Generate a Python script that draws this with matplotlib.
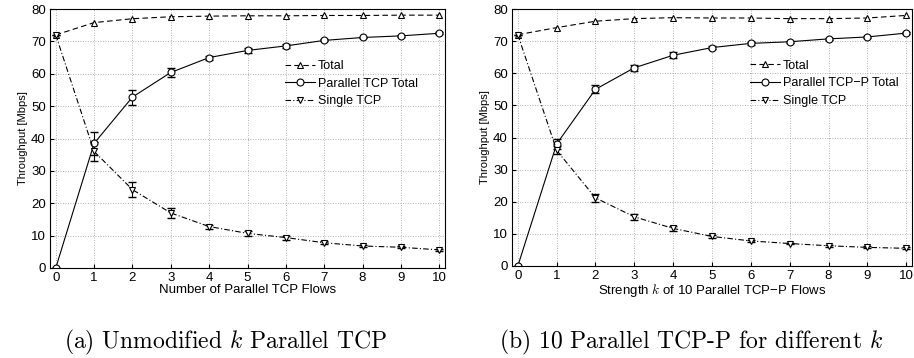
import numpy as np
import matplotlib.pyplot as plt
from matplotlib import rcParams

rcParams['font.family'] = ['Liberation Sans', 'DejaVu Sans']
rcParams['mathtext.fontset'] = 'cm'
rcParams['axes.unicode_minus'] = False

x = np.arange(0, 11)

# panel (a): unmodified k parallel TCP
tot_a = [72, 75.8, 77.0, 77.6, 77.8, 77.9, 77.9, 78.0, 78.0, 78.1, 78.1]
par_a = [0, 38.5, 52.8, 60.4, 65.0, 67.2, 68.6, 70.3, 71.2, 71.7, 72.5]
par_a_err = [0, 3.5, 2.3, 1.5, 0.6, 0.8, 0.7, 0.3, 0.3, 0.3, 0.3]
sgl_a = [72, 36.0, 24.2, 17.0, 12.8, 10.7, 9.4, 7.8, 6.8, 6.4, 5.6]
sgl_a_err = [0, 3.0, 2.4, 1.5, 0.6, 0.7, 0.6, 0.4, 0.3, 0.3, 0.3]

# panel (b): 10 parallel TCP-P for different k
tot_b = [72, 74.2, 76.2, 77.0, 77.3, 77.2, 77.2, 77.0, 77.0, 77.2, 78.0]
par_b = [0, 38.0, 55.0, 61.7, 65.6, 68.0, 69.3, 69.8, 70.7, 71.3, 72.5]
par_b_err = [0, 1.5, 1.2, 1.0, 1.0, 0.5, 0.4, 0.3, 0.3, 0.3, 0.3]
sgl_b = [72, 36.0, 21.2, 15.3, 11.7, 9.2, 7.8, 7.0, 6.3, 5.8, 5.5]
sgl_b_err = [0, 1.2, 1.2, 1.0, 0.8, 0.5, 0.4, 0.3, 0.3, 0.3, 0.3]

fig = plt.figure(figsize=(9.14, 3.58), dpi=100)
ax1 = fig.add_axes([50/914, 1-268/358, 395/914, 259/358])
ax2 = fig.add_axes([512/914, 1-266/358, 400/914, 257/358])

mk = dict(ms=5, mfc='white', mec='k', mew=0.8, color='k', lw=0.8)


def panel(ax, tot, par, par_err, sgl, sgl_err, par_label, xlabel):
    # error bars first, lines with labels on top
    ax.errorbar(x, par, yerr=par_err, fmt='none', ecolor='k', elinewidth=0.8, capsize=3)
    ax.errorbar(x, sgl, yerr=sgl_err, fmt='none', ecolor='k', elinewidth=0.8, capsize=3)
    ax.plot(x, tot, linestyle=(0, (5, 3)), marker='^', label='Total', **mk)
    ax.plot(x, par, '-', marker='o', label=par_label, **mk)
    ax.plot(x, sgl, linestyle=(0, (5, 2, 1, 2)), marker='v', label='Single TCP', **mk)
    ax.set_xlim(-0.15, 10.15)
    ax.set_ylim(0, 80)
    ax.set_xticks(x)
    ax.set_yticks(np.arange(0, 81, 10))
    ax.grid(True, linestyle=(0, (1, 2)), color='#999999', lw=0.6)
    ax.tick_params(labelsize=9.5, direction='in', length=3, pad=3)
    ax.set_xlabel(xlabel, fontsize=9.5, labelpad=0)
    ax.set_ylabel('Throughput [Mbps]', fontsize=8, labelpad=2)
    for s in ax.spines.values():
        s.set_linewidth(0.8)
    ax.legend(loc='upper left', bbox_to_anchor=(0.595, 0.803), frameon=False,
              fontsize=9, handlelength=2.4, handletextpad=0.25,
              labelspacing=0.45, borderpad=0, borderaxespad=0)


panel(ax1, tot_a, par_a, par_a_err, sgl_a, sgl_a_err,
      'Parallel TCP Total', 'Number of Parallel TCP Flows')
panel(ax2, tot_b, par_b, par_b_err, sgl_b, sgl_b_err,
      'Parallel TCP\u2212P Total', 'Strength $\\it{k}$ of 10 Parallel TCP\u2212P Flows')

fig.text(225/914, 1-342/358, '(a) Unmodified $k$ Parallel TCP', ha='center',
         va='center', fontsize=17, family=['cmr10', 'DejaVu Serif'])
fig.text(691/914, 1-342/358, '(b) 10 Parallel TCP-P for different $k$', ha='center',
         va='center', fontsize=17, family=['cmr10', 'DejaVu Serif'])

fig.savefig('out.png', dpi=100)
